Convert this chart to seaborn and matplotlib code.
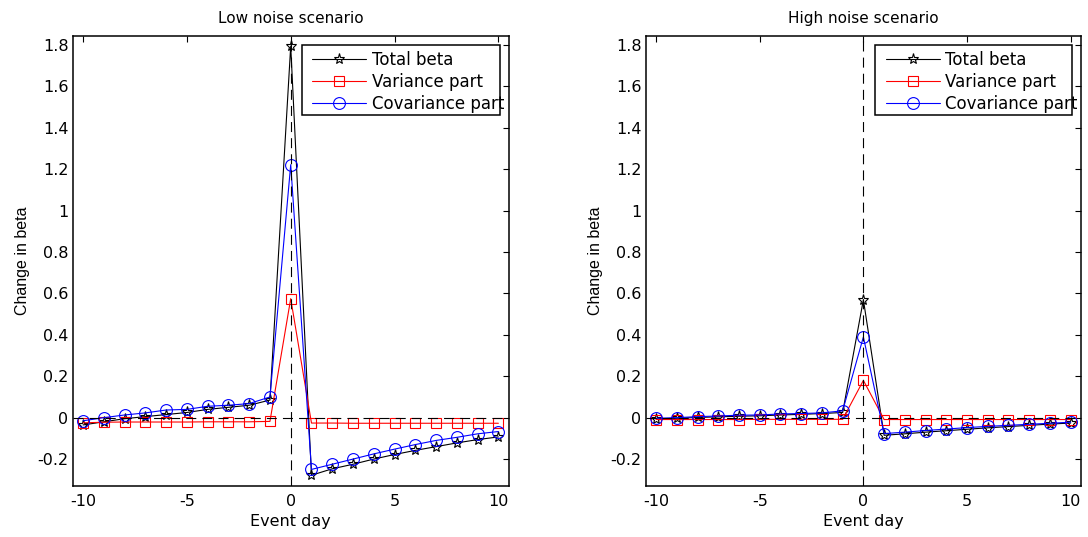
import matplotlib
matplotlib.use("Agg")
import matplotlib.pyplot as plt
import seaborn as sns
import numpy as np
from matplotlib.patches import Rectangle
from matplotlib.ticker import FuncFormatter

# event window
days = list(range(-10, 11))

# low noise scenario
low_total = [-0.035, -0.02, -0.005, 0.005, 0.015, 0.025, 0.04, 0.05, 0.06, 0.085,
             1.795,
             -0.278, -0.247, -0.225, -0.2, -0.178, -0.158, -0.14, -0.122, -0.106, -0.093]
low_var = [-0.025, -0.022, -0.021, -0.021, -0.021, -0.021, -0.02, -0.02, -0.02, -0.018,
           0.575,
           -0.026, -0.026, -0.027, -0.027, -0.027, -0.027, -0.027, -0.027, -0.027, -0.027]
low_cov = [-0.015, 0.0, 0.013, 0.023, 0.037, 0.04, 0.055, 0.06, 0.068, 0.1,
           1.222,
           -0.25, -0.225, -0.2, -0.175, -0.152, -0.13, -0.11, -0.095, -0.078, -0.067]

# high noise scenario
high_total = [-0.006, -0.003, 0.001, 0.004, 0.007, 0.009, 0.013, 0.016, 0.02, 0.025,
              0.57,
              -0.085, -0.078, -0.07, -0.063, -0.056, -0.049, -0.043, -0.037, -0.031, -0.026]
high_var = [-0.009, -0.009, -0.009, -0.009, -0.009, -0.008, -0.008, -0.008, -0.008, -0.008,
            0.18,
            -0.009, -0.009, -0.009, -0.009, -0.009, -0.009, -0.009, -0.009, -0.009, -0.009]
high_cov = [-0.003, 0.0, 0.005, 0.008, 0.012, 0.013, 0.018, 0.02, 0.023, 0.033,
            0.39,
            -0.077, -0.07, -0.062, -0.055, -0.048, -0.042, -0.037, -0.032, -0.027, -0.022]

titles = ["Low noise scenario", "High noise scenario"]
labels = ["Total beta", "Variance part", "Covariance part"]

sns.set_style("white")
plt.rcParams['font.family'] = ['DejaVu Sans']
plt.rcParams['axes.unicode_minus'] = False
plt.rcParams['text.color'] = 'black'
plt.rcParams['axes.labelcolor'] = 'black'
fs = 11.5

fig = plt.figure(figsize=(10.88, 5.37), dpi=100)
ax1 = fig.add_axes([0.0668, 0.095, 0.4008, 0.8385])
ax2 = fig.add_axes([0.5935, 0.095, 0.4001, 0.8385])

panels = [(ax1, low_total, low_var, low_cov), (ax2, high_total, high_var, high_cov)]
styles = [("black", "*", 8), ("red", "s", 7), ("blue", "o", 8.5)]
leg_x = [0.5377, 0.54]


def fmt(v, pos):
    s = "%g" % round(v, 2)
    return "0" if s == "-0" else s


for i, (ax, tot, var, cov) in enumerate(panels):
    for ys, lab, (c, m, ms) in zip([tot, var, cov], labels, styles):
        sns.lineplot(x=days, y=ys, ax=ax, color=c, marker=m, markersize=ms,
                     mfc="none", mec=c, mew=0.8, lw=0.8, label=lab, legend=False)
    ax.axvline(0, color="black", lw=0.8, ls=(0, (9, 5.5)), zorder=3)
    ax.axhline(0, color="black", lw=0.8, ls=(0, (9, 5.5)), zorder=3)

    ax.set_xlim(-10.5, 10.5)
    ax.set_ylim(-0.33, 1.845)
    ax.set_xticks([-10, -5, 0, 5, 10])
    ax.set_yticks(np.arange(-0.2, 1.81, 0.2))
    ax.yaxis.set_major_formatter(FuncFormatter(fmt))
    ax.tick_params(axis="both", direction="in", length=4.5, width=0.8,
                   top=True, right=True, labelsize=fs, colors="black")
    ax.tick_params(axis="y", pad=3)
    ax.tick_params(axis="x", pad=5.5)
    for sp in ax.spines.values():
        sp.set_color("black")
        sp.set_linewidth(1.1)

    ax.set_title(titles[i], fontsize=11, pad=9, color="black")
    ax.set_xlabel("Event day", fontsize=fs, labelpad=4)
    ax.set_ylabel("Change in beta", fontsize=fs, family="Liberation Sans", labelpad=5)

    # legend box
    box = Rectangle((0.5266, 0.824), 0.4534, 0.156, transform=ax.transAxes,
                    facecolor="white", edgecolor="black", lw=1.1, zorder=4, clip_on=False)
    ax.add_patch(box)
    handles, labs = ax.get_legend_handles_labels()
    leg = ax.legend(handles, labs, loc="upper left", bbox_to_anchor=(leg_x[i], 0.978),
                    frameon=False, fontsize=12, handlelength=3.23, handletextpad=0.34,
                    labelspacing=0.25, borderpad=0.3, borderaxespad=0.0, labelcolor="black")
    leg.set_zorder(5)

fig.savefig("out.png", dpi=100)
